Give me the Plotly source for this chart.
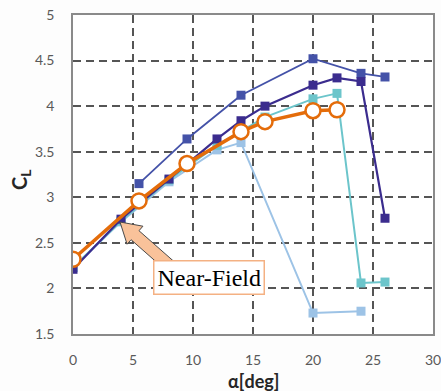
import plotly.graph_objects as go
import math

# ---- data ----
x_blue = [5.5, 9.5, 14, 20, 24, 26]
y_blue = [3.15, 3.64, 4.12, 4.52, 4.36, 4.32]

x_purple = [0, 4, 8, 12, 14, 16, 20, 22, 24, 26]
y_purple = [2.21, 2.76, 3.20, 3.64, 3.84, 4.00, 4.23, 4.31, 4.27, 2.77]

x_teal = [0, 4, 8, 12, 16, 20, 22, 24, 26]
y_teal = [2.23, 2.74, 3.19, 3.57, 3.88, 4.08, 4.14, 2.06, 2.07]

x_light = [0, 4, 8, 12, 14, 20, 24]
y_light = [2.23, 2.73, 3.17, 3.52, 3.60, 1.73, 1.75]

x_near = [0, 5.5, 9.5, 14, 16, 20, 22]
y_near = [2.32, 2.96, 3.37, 3.72, 3.83, 3.95, 3.96]

x_ticks = [0, 5, 10, 15, 20, 25, 30]
y_ticks = [1.5, 2, 2.5, 3, 3.5, 4, 4.5, 5]

annot_text = "Near-Field"
x_title = "<b>α[deg]</b>"
y_title = "<b>C<sub>L</sub></b>"

# ---- figure geometry ----
W, H = 441, 391
ml, mr, mt, mb = 73, 8, 15, 57
xr = [0, 30]
yr = [1.5, 5]
pw, ph = W - ml - mr, H - mt - mb


def px2data(px, py):
    return (xr[0] + (px - ml) / pw * (xr[1] - xr[0]),
            yr[1] - (py - mt) / ph * (yr[1] - yr[0]))


def px2paper(px, py):
    return (px - ml) / pw, 1 - (py - mt) / ph


fig = go.Figure()

fig.add_trace(go.Scatter(x=x_light, y=y_light, mode="lines+markers",
                         line=dict(color="#9DC3E6", width=2),
                         marker=dict(symbol="square", size=9, color="#9DC3E6")))
fig.add_trace(go.Scatter(x=x_teal, y=y_teal, mode="lines+markers",
                         line=dict(color="#6CC5CB", width=2),
                         marker=dict(symbol="square", size=9, color="#6CC5CB")))
fig.add_trace(go.Scatter(x=x_blue, y=y_blue, mode="lines+markers",
                         line=dict(color="#4452A8", width=1.8),
                         marker=dict(symbol="square", size=9, color="#4452A8")))
fig.add_trace(go.Scatter(x=x_purple, y=y_purple, mode="lines+markers",
                         line=dict(color="#3B2C8E", width=2.2),
                         marker=dict(symbol="square", size=9, color="#3B2C8E")))
fig.add_trace(go.Scatter(x=x_near, y=y_near, mode="lines+markers",
                         line=dict(color="#E46C0A", width=3.5),
                         marker=dict(symbol="circle", size=15, color="white",
                                     line=dict(color="#E46C0A", width=2.5))))

# block arrow (decoration) computed in pixel space
tip = (120, 222)
tail = (170, 266)
dx, dy = tail[0] - tip[0], tail[1] - tip[1]
L = math.hypot(dx, dy)
ux, uy = dx / L, dy / L
nx, ny = -uy, ux
head_len, head_w, shaft_w = 20, 12, 6
hb = (tip[0] + ux * head_len, tip[1] + uy * head_len)
pts_px = [
    tip,
    (hb[0] + nx * head_w, hb[1] + ny * head_w),
    (hb[0] + nx * shaft_w, hb[1] + ny * shaft_w),
    (tail[0] + nx * shaft_w, tail[1] + ny * shaft_w),
    (tail[0] - nx * shaft_w, tail[1] - ny * shaft_w),
    (hb[0] - nx * shaft_w, hb[1] - ny * shaft_w),
    (hb[0] - nx * head_w, hb[1] - ny * head_w),
]
pts = [px2data(*p) for p in pts_px]
path = "M " + " L ".join(f"{a:.4f},{b:.4f}" for a, b in pts) + " Z"
fig.add_shape(type="path", path=path, xref="x", yref="y",
              fillcolor="#F9C29A", line=dict(color="#4a4a4a", width=1))

bx, by = px2data(209, 277.5)
fig.add_annotation(x=bx, y=by, xref="x", yref="y", text=annot_text,
                   showarrow=False, xanchor="center", yanchor="middle",
                   font=dict(family="Liberation Serif", size=24, color="black"),
                   bgcolor="white", bordercolor="#F4B183", borderwidth=1.5,
                   borderpad=3)

yx, yy = px2paper(20, 180)
fig.add_annotation(x=yx, y=yy, xref="paper", yref="paper",
                   text=y_title, textangle=-90, showarrow=False,
                   xanchor="center", yanchor="middle",
                   font=dict(family="Lato", size=20, color="#262626"))

xx, xy = px2paper(253, 381)
fig.add_annotation(x=xx, y=xy, xref="paper", yref="paper",
                   text=x_title, showarrow=False,
                   xanchor="center", yanchor="middle",
                   font=dict(family="Lato", size=18, color="#262626"))

grid = dict(showgrid=True, gridcolor="#555555", griddash="8px,5px", gridwidth=1.5,
            showline=True, linecolor="#8a8a8a", linewidth=1.5, mirror=True,
            zeroline=False, ticks="outside", tickcolor="rgba(0,0,0,0)",
            ticklabeloverflow="allow",
            tickfont=dict(family="Lato", size=14, color="#595959"))

fig.update_xaxes(range=xr, tickvals=x_ticks, ticklen=12, **grid)
fig.update_yaxes(range=yr, tickvals=y_ticks, ticklen=14, **grid)

fig.update_layout(width=W, height=H, margin=dict(l=ml, r=mr, t=mt, b=mb,
                                                 autoexpand=False),
                  paper_bgcolor="#FDFDFD", plot_bgcolor="white",
                  showlegend=False)

fig.write_html("out.html")
